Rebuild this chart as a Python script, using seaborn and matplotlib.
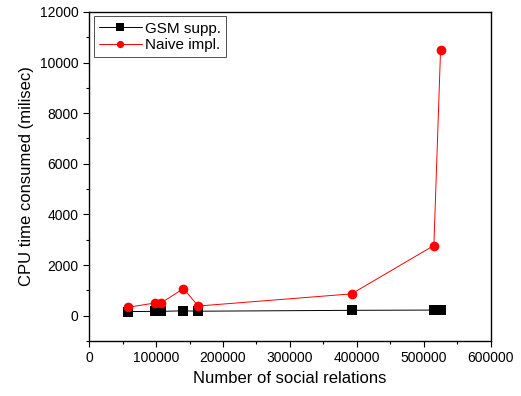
import numpy as np
import pandas as pd
import matplotlib
matplotlib.use('Agg')
import matplotlib.pyplot as plt
import seaborn as sns
from matplotlib.ticker import MultipleLocator

# data
relations = [58000, 98500, 107500, 141000, 163000, 392000, 515000, 525000]
gsm_time = [160, 170, 170, 190, 175, 210, 220, 215]
naive_time = [330, 500, 500, 1070, 380, 860, 2770, 10500]

df = pd.DataFrame({
    'relations': relations * 2,
    'time': gsm_time + naive_time,
    'method': ['GSM supp.'] * len(relations) + ['Naive impl.'] * len(relations),
})

sns.set_style('ticks')
plt.rcParams['font.family'] = ['Liberation Sans', 'DejaVu Sans']
plt.rcParams['text.color'] = 'black'
plt.rcParams['axes.labelcolor'] = 'black'
plt.rcParams['xtick.color'] = 'black'
plt.rcParams['ytick.color'] = 'black'

fig = plt.figure(figsize=(5.21, 3.96), dpi=100)
ax = fig.add_axes([0.171, 0.139, 0.771, 0.831])

sns.lineplot(data=df, x='relations', y='time', hue='method', style='method',
             palette={'GSM supp.': 'black', 'Naive impl.': 'red'},
             markers={'GSM supp.': 's', 'Naive impl.': 'o'}, dashes=False,
             markersize=7, markeredgewidth=0, linewidth=0.7, sort=False, ax=ax)

ax.set_xlim(0, 600000)
ax.set_ylim(-1000, 12000)
ax.xaxis.set_major_locator(MultipleLocator(100000))
ax.xaxis.set_minor_locator(MultipleLocator(50000))
ax.yaxis.set_major_locator(MultipleLocator(2000))
ax.yaxis.set_minor_locator(MultipleLocator(1000))
ax.tick_params(which='major', direction='out', length=4, width=0.8, labelsize=10)
ax.tick_params(which='minor', direction='out', length=2.5, width=0.8)
for s in ax.spines.values():
    s.set_linewidth(1.0)
    s.set_color('black')

ax.set_xlabel('Number of social relations', fontsize=12)
ax.set_ylabel('CPU time consumed (milisec)', fontsize=12)

leg = ax.legend(loc='upper left', fontsize=11, frameon=True, fancybox=False,
                edgecolor='black', borderaxespad=0.3, borderpad=0.35,
                labelspacing=0.15, handlelength=2.8, handletextpad=0.2,
                markerscale=0.75)
leg.get_frame().set_linewidth(0.6)

fig.savefig('out.png', dpi=100)
